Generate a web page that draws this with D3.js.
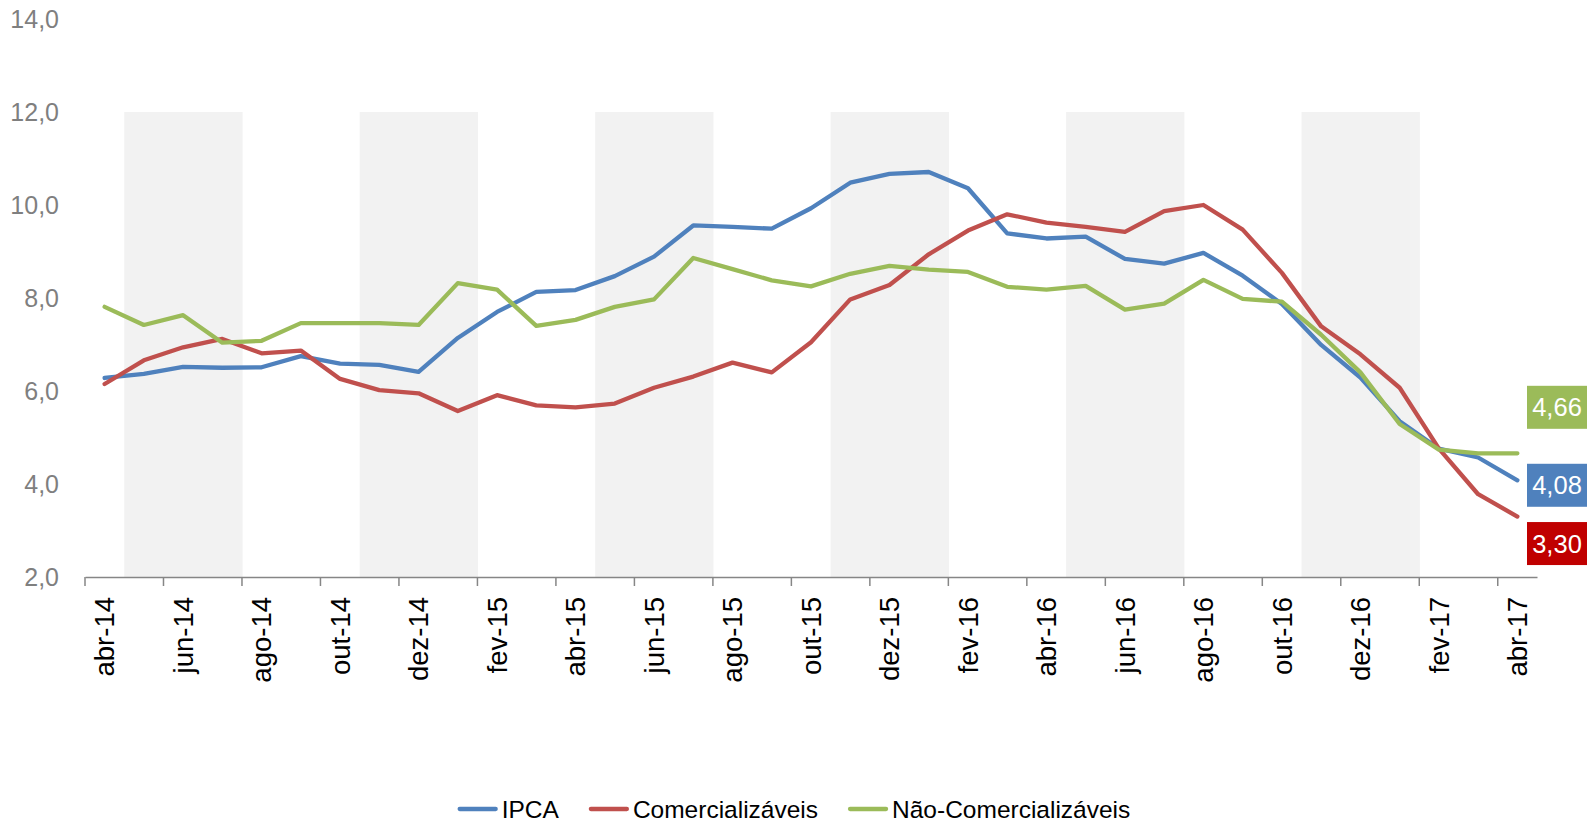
<!DOCTYPE html>
<html>
<head>
<meta charset="utf-8">
<script src="https://cdn.jsdelivr.net/npm/d3@7"></script>
<style>
  body { margin: 0; background: #fff; }
  svg { display: block; font-family: 'Liberation Sans', Arial, sans-serif; }
</style>
</head>
<body>
<svg id="chart" width="1590" height="825"></svg>
<script>

let meses = ['abr-14','mai-14','jun-14','jul-14','ago-14','set-14','out-14','nov-14','dez-14',
  'jan-15','fev-15','mar-15','abr-15','mai-15','jun-15','jul-15','ago-15','set-15','out-15','nov-15','dez-15',
  'jan-16','fev-16','mar-16','abr-16','mai-16','jun-16','jul-16','ago-16','set-16','out-16','nov-16','dez-16',
  'jan-17','fev-17','mar-17','abr-17']

let ipca = [6.28, 6.37, 6.52, 6.50, 6.51, 6.75, 6.59, 6.56, 6.41,
  7.14, 7.70, 8.13, 8.17, 8.47, 8.89, 9.56, 9.53, 9.49, 9.93, 10.48, 10.67,
  10.71, 10.36, 9.39, 9.28, 9.32, 8.84, 8.74, 8.97, 8.48, 7.87, 6.99, 6.29,
  5.35, 4.76, 4.57, 4.08]

let comercializaveis = [6.15, 6.66, 6.94, 7.12, 6.81, 6.87, 6.26, 6.02, 5.95,
  5.57, 5.91, 5.69, 5.65, 5.73, 6.07, 6.31, 6.61, 6.40, 7.05, 7.97, 8.28,
  8.94, 9.45, 9.80, 9.62, 9.53, 9.42, 9.87, 10.00, 9.47, 8.54, 7.39, 6.79,
  6.07, 4.76, 3.78, 3.30]

let naoComercializaveis = [7.81, 7.42, 7.63, 7.04, 7.08, 7.46, 7.46, 7.46, 7.42,
  8.32, 8.18, 7.40, 7.53, 7.81, 7.97, 8.86, 8.62, 8.38, 8.25, 8.52, 8.69,
  8.61, 8.56, 8.24, 8.18, 8.26, 7.75, 7.88, 8.39, 7.98, 7.92, 7.21, 6.40,
  5.29, 4.74, 4.66, 4.66]

// faixas cinzas de fundo (serie de colunas)
let faixa = [null, 12, 12, 12, null, null, null, 12, 12, 12, null, null, null,
  12, 12, 12, null, null, null, 12, 12, 12, null, null, null,
  12, 12, 12, null, null, null, 12, 12, 12, null, null, null]

let yTicks = [2, 4, 6, 8, 10, 12, 14]
let xTickLabels = ['abr-14','jun-14','ago-14','out-14','dez-14','fev-15','abr-15','jun-15','ago-15',
  'out-15','dez-15','fev-16','abr-16','jun-16','ago-16','out-16','dez-16','fev-17','abr-17']

let series = [
  { nome: 'IPCA', valores: ipca, cor: '#4f81bd', rotulo: '#4f81bd', dy: 5 },
  { nome: 'Comercializáveis', valores: comercializaveis, cor: '#c0504d', rotulo: '#c00000', dy: 27 },
  { nome: 'Não-Comercializáveis', valores: naoComercializaveis, cor: '#9bbb59', rotulo: '#9bbb59', dy: -46 }
]

let pt = d3.formatLocale({ decimal: ',', thousands: '.', grouping: [3], currency: ['R$', ''] })

let svg = d3.select('#chart')
let plotLeft = 85, plotRight = 1537, plotTop = 19, plotBottom = 577

let xScale = d3.scaleBand().domain(meses).range([plotLeft, plotRight]).padding(0)
let yScale = d3.scaleLinear().domain([2, 14]).range([plotBottom, plotTop])

// fundo
svg.append('g')
  .selectAll('rect')
  .data(meses.map((m, i) => ({ m: m, v: faixa[i] })).filter(d => d.v != null))
  .join('rect')
  .attr('x', d => xScale(d.m))
  .attr('width', xScale.bandwidth() + 0.6)
  .attr('y', d => yScale(d.v))
  .attr('height', d => yScale(2) - yScale(d.v))
  .attr('fill', '#f2f2f2')

// eixo y
let yAxis = svg.append('g')
  .attr('transform', `translate(${plotLeft},0)`)
  .call(d3.axisLeft(yScale).tickValues(yTicks).tickSize(0).tickPadding(26).tickFormat(pt.format('.1f')))
yAxis.select('.domain').remove()
yAxis.selectAll('text')
  .attr('fill', '#7f7f7f')
  .style('font-size', '25px')

// eixo x
let xAxis = svg.append('g')
  .attr('transform', `translate(0,${plotBottom})`)
  .call(d3.axisBottom(xScale).tickValues(xTickLabels).tickSize(0).tickSizeOuter(0))
xAxis.select('.domain')
  .attr('stroke', '#868686')
  .attr('stroke-width', 1.5)
xAxis.selectAll('text')
  .attr('transform', 'rotate(-90)')
  .attr('x', -20)
  .attr('y', 0)
  .attr('dy', '0.35em')
  .attr('text-anchor', 'end')
  .attr('fill', '#000')
  .style('font-size', '27.5px')

// marcas entre categorias, a cada dois meses
svg.append('g')
  .selectAll('line')
  .data(meses.filter((m, i) => i % 2 == 0))
  .join('line')
  .attr('x1', d => xScale(d))
  .attr('x2', d => xScale(d))
  .attr('y1', plotBottom)
  .attr('y2', plotBottom + 9)
  .attr('stroke', '#868686')
  .attr('stroke-width', 1.5)

// linhas
let line = d3.line()
  .x((d, i) => xScale(meses[i]) + xScale.bandwidth() / 2)
  .y(d => yScale(d))

svg.append('g')
  .selectAll('path')
  .data(series)
  .join('path')
  .attr('fill', 'none')
  .attr('stroke', d => d.cor)
  .attr('stroke-width', 4.3)
  .attr('stroke-linejoin', 'round')
  .attr('stroke-linecap', 'round')
  .attr('d', d => line(d.valores))

// rotulos do ultimo valor
let rotulos = svg.append('g')
  .selectAll('g')
  .data(series)
  .join('g')
  .attr('transform', d => `translate(1557,${yScale(d.valores[d.valores.length - 1]) + d.dy})`)
rotulos.append('rect')
  .attr('x', -30)
  .attr('y', -21.5)
  .attr('width', 60)
  .attr('height', 43)
  .attr('fill', d => d.rotulo)
rotulos.append('text')
  .attr('text-anchor', 'middle')
  .attr('dy', '0.36em')
  .attr('fill', '#fff')
  .style('font-size', '25.5px')
  .text(d => pt.format('.2f')(d.valores[d.valores.length - 1]))

// legenda
let legend = svg.append('g')
let pos = 0
series.forEach(s => {
  let item = legend.append('g').attr('transform', `translate(${pos},0)`)
  item.append('line')
    .attr('x1', 2).attr('x2', 38)
    .attr('y1', -9).attr('y2', -9)
    .attr('stroke', s.cor)
    .attr('stroke-width', 4.3)
    .attr('stroke-linecap', 'round')
  let t = item.append('text')
    .attr('x', 44)
    .attr('fill', '#000')
    .style('font-size', '24.5px')
    .text(s.nome)
  pos += 44 + t.node().getComputedTextLength() + 30
})
let legendWidth = pos - 30
legend.attr('transform', `translate(${794 - legendWidth / 2},818)`)

</script>
</body>
</html>
